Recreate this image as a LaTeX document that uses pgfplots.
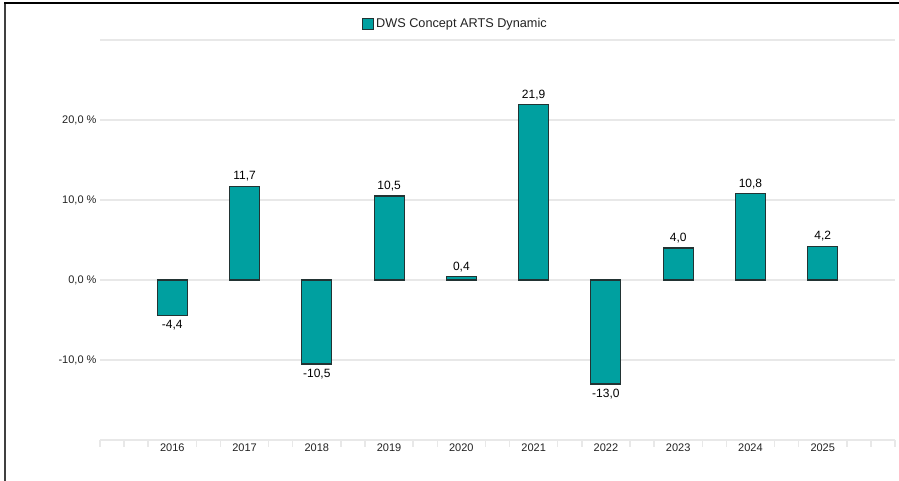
\documentclass[border=0pt]{standalone}
\usepackage{fontspec}
\setmainfont{Liberation Sans}
\usepackage{pgfplots}
\pgfplotsset{compat=1.18}
\definecolor{barfill}{HTML}{00A0A0}
\definecolor{barline}{HTML}{223333}
\definecolor{gridc}{HTML}{E8E8E8}
\definecolor{tickc}{HTML}{222222}
\begin{document}
\begin{tikzpicture}
\path[use as bounding box] (0,0) rectangle (899pt,481pt);
\begin{axis}[
  at={(100pt,41pt)}, anchor=south west,
  width=795pt, height=400pt, scale only axis,
  xmin=2015, xmax=2026, ymin=-20, ymax=30,
  ybar,
  /pgf/number format/assume math mode=true,
  axis x line*=bottom, axis y line*=left,
  x axis line style={-, draw=gridc, line width=2.5pt},
  y axis line style={draw=none},
  xtick={2016,2017,2018,2019,2020,2021,2022,2023,2024,2025},
  xticklabels={2016,2017,2018,2019,2020,2021,2022,2023,2024,2025},
  minor xtick={2015,2015.3333,2015.6667,2016.3333,2016.6667,2017.3333,2017.6667,2018.3333,2018.6667,2019.3333,2019.6667,2020.3333,2020.6667,2021.3333,2021.6667,2022.3333,2022.6667,2023.3333,2023.6667,2024.3333,2024.6667,2025.3333,2025.6667,2026},
  major tick length=0pt, minor tick length=7pt, tick align=outside,
  tick style={draw=gridc, line width=1.5pt},
  ytick style={draw=none},
  ytick={-10,0,10,20},
  yticklabels={-10{,}0 \%,0{,}0 \%,10{,}0 \%,20{,}0 \%},
  extra y ticks={30}, extra y tick labels={},
  extra y tick style={grid=major, ytick style={draw=none}},
  ymajorgrids,
  grid style={draw=gridc, line width=1.2pt},
  xticklabel style={font=\fontsize{11}{12}\selectfont, text=tickc},
  yticklabel style={font=\fontsize{11}{12}\selectfont, text=tickc},
  legend style={at={(0.447,1.04)}, anchor=center, draw=none, fill=none,
    font=\fontsize{12.7}{14}\selectfont, text=tickc},
  legend image code/.code={\draw[fill=barfill, draw=barline, line width=1.1pt] (0pt,-5.5pt) rectangle (11pt,5.5pt);},
  clip=false,
]
\addplot[fill=barfill, draw=barline, line width=1.1pt, bar width=0.415,
  nodes near coords={\pgfmathprintnumber[fixed,fixed zerofill,precision=1,use comma]{\pgfplotspointmeta}},
  nodes near coords align={vertical},
  every node near coord/.append style={font=\fontsize{12}{13}\selectfont, text=black, inner sep=4.5pt}
] coordinates {
  (2016,-4.4) (2017,11.7) (2018,-10.5) (2019,10.5) (2020,0.4)
  (2021,21.9) (2022,-13.0) (2023,4.0) (2024,10.8) (2025,4.2)
};
\addlegendentry{DWS Concept ARTS Dynamic}
\end{axis}
\draw[line width=1.5pt, black!75] (5pt,0pt) -- (5pt,478pt);
\draw[line width=1.2pt, black] (4.25pt,478pt) -- (899pt,478pt);
\end{tikzpicture}
\end{document}
